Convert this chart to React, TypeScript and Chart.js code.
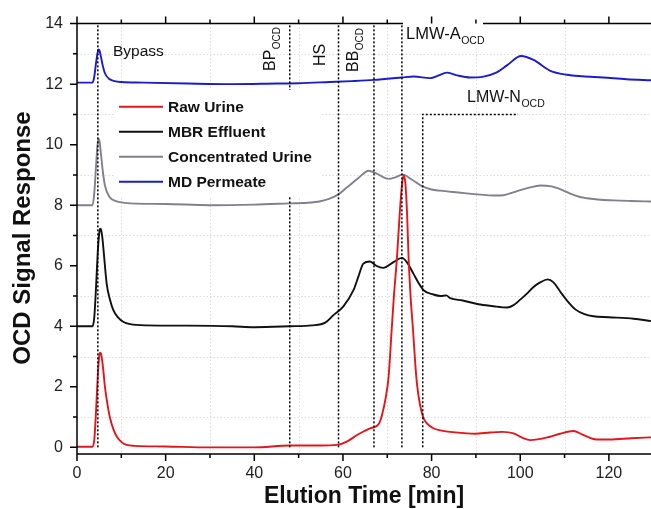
import React, { useEffect, useRef } from "react";
import { Chart, registerables } from "chart.js";

Chart.register(...registerables);

const FONT = '"Liberation Sans", Arial, Helvetica, sans-serif';

// ---- Data ----
const rawUrineX = [0, 3.5, 3.9, 4.3, 4.7, 5.0, 5.2, 5.4, 5.7, 6.0, 6.3, 6.9, 7.4, 8.2, 9.0, 10.0, 11.2, 13, 20, 30, 40, 48, 55, 58.6, 61, 63.1, 65, 66.1, 67.3, 68.2, 68.8, 69.6, 70.3, 71.0, 71.5, 72.2, 72.8, 73.3, 73.7, 74.1, 74.5, 74.8, 75.3, 75.8, 76.3, 76.7, 77.4, 78.2, 79, 80.4, 82, 84.2, 88, 89.7, 93.2, 95.9, 98.5, 100.3, 102.3, 106.7, 109, 112, 114.2, 117.2, 120.2, 125, 129.5];
const rawUrineY = [0.02, 0.02, 0.25, 1.2, 2.4, 3.0, 3.13, 3.1, 2.85, 2.45, 2.0, 1.4, 1.0, 0.6, 0.35, 0.18, 0.08, 0.05, 0.03, 0.0, 0.0, 0.06, 0.06, 0.08, 0.2, 0.4, 0.55, 0.63, 0.68, 0.8, 1.06, 1.6, 2.33, 3.9, 5.0, 6.3, 7.7, 8.65, 8.98, 8.7, 7.6, 6.3, 4.9, 3.9, 2.8, 2.1, 1.4, 0.96, 0.78, 0.63, 0.56, 0.51, 0.46, 0.45, 0.49, 0.51, 0.46, 0.33, 0.24, 0.35, 0.45, 0.54, 0.41, 0.26, 0.26, 0.3, 0.33];

const mbrX = [0, 3.5, 3.9, 4.3, 4.7, 5.0, 5.2, 5.4, 5.7, 6.0, 6.7, 7.4, 8.2, 9.2, 10.5, 12, 15.7, 25, 35, 40, 48, 53, 56, 57.8, 60.1, 62.4, 63.5, 64.6, 66.1, 67.5, 69.1, 71.4, 73.3, 74.5, 75.9, 77, 78.2, 80.4, 82, 83.3, 84.2, 87, 91, 94, 97, 98.5, 100, 101.5, 103, 104.5, 106.2, 107.5, 109, 110.5, 112.5, 114.5, 116.5, 120, 125.6, 129.5];
const mbrY = [4.0, 4.0, 4.3, 5.3, 6.5, 7.05, 7.22, 7.2, 6.95, 6.5, 5.4, 4.9, 4.53, 4.3, 4.14, 4.07, 4.03, 4.02, 4.0, 3.97, 4.0, 4.03, 4.12, 4.36, 4.66, 5.2, 5.65, 6.07, 6.14, 6.0, 5.93, 6.12, 6.26, 6.1, 5.74, 5.45, 5.19, 5.05, 5.0, 5.02, 4.93, 4.85, 4.72, 4.66, 4.62, 4.7, 4.88, 5.08, 5.3, 5.45, 5.55, 5.45, 5.15, 4.86, 4.55, 4.4, 4.33, 4.3, 4.25, 4.17];

const concX = [0, 3.5, 3.9, 4.3, 4.6, 4.85, 5.1, 5.4, 5.8, 6.3, 7.4, 8.5, 9.7, 12, 20, 30, 40, 48, 52, 54.9, 57, 58.8, 61, 63.5, 65.8, 67.5, 70.3, 72, 73.5, 75.5, 77.8, 80, 81.9, 86, 91, 94, 96.2, 99, 102, 104.5, 107, 109.5, 111.3, 113.5, 115, 118, 121, 125, 129.5];
const concY = [8.0, 8.0, 8.4, 9.3, 9.95, 10.2, 10.1, 9.7, 9.15, 8.65, 8.26, 8.15, 8.1, 8.06, 8.04, 8.0, 8.02, 8.06, 8.08, 8.13, 8.22, 8.34, 8.6, 8.9, 9.14, 9.05, 8.87, 8.93, 9.01, 8.85, 8.63, 8.52, 8.48, 8.42, 8.35, 8.32, 8.33, 8.45, 8.58, 8.65, 8.62, 8.5, 8.38, 8.27, 8.23, 8.18, 8.16, 8.14, 8.12];

const mdX = [0, 3.5, 3.9, 4.3, 4.6, 4.85, 5.1, 5.4, 5.8, 6.3, 7.2, 8.5, 10, 15, 25, 35, 45, 50, 57, 62, 67, 70, 73.3, 76, 79.7, 81.5, 83.4, 85.5, 88.7, 91.7, 94.7, 97, 100.2, 103, 106.8, 110.5, 114, 118.7, 124, 129.5];
const mdY = [12.05, 12.05, 12.25, 12.7, 13.0, 13.15, 13.1, 12.9, 12.62, 12.36, 12.18, 12.1, 12.07, 12.05, 12.02, 12.0, 12.02, 12.03, 12.07, 12.1, 12.14, 12.18, 12.22, 12.25, 12.2, 12.28, 12.38, 12.3, 12.22, 12.25, 12.39, 12.62, 12.93, 12.8, 12.44, 12.31, 12.26, 12.22, 12.16, 12.13];

const seriesNames = ["Raw Urine", "MBR Effluent", "Concentrated Urine", "MD Permeate"];
const seriesColors = ["#e3161c", "#111111", "#80808e", "#1c1cc8"];

const xTicks = [0, 20, 40, 60, 80, 100, 120];
const xMinor = [10, 30, 50, 70, 90, 110];
const yTicks = [0, 2, 4, 6, 8, 10, 12, 14];
const yMinor = [1, 3, 5, 7, 9, 11, 13];

// fraction boundaries (dotted markers)
const markerTimes = [4.7, 48, 59, 67, 73.3];
const lmwNTime = 78;
const lmwNEnd = 99.5;
const lmwNLevel = 11;

const toPts = (xs: number[], ys: number[]) => xs.map((x, i) => ({ x, y: ys[i] }));

function drawSub(ctx: CanvasRenderingContext2D, x: number, y: number, main: string, sub: string, size: number, subSize: number, rot: boolean) {
  ctx.save();
  ctx.translate(x, y);
  if (rot) ctx.rotate(-Math.PI / 2);
  ctx.fillStyle = "#111";
  ctx.textAlign = "left";
  ctx.textBaseline = "alphabetic";
  ctx.font = `${size}px ${FONT}`;
  ctx.fillText(main, 0, 0);
  const w = ctx.measureText(main).width;
  if (sub) {
    ctx.font = `${subSize}px ${FONT}`;
    ctx.fillText(sub, w + 0.5, subSize * 0.45);
  }
  ctx.restore();
}

const decor = {
  id: "decor",
  beforeDatasetsDraw(chart: any) {
    const { ctx, chartArea: a, scales } = chart;
    const xs = scales.x, ys = scales.y;
    ctx.save();
    ctx.strokeStyle = "#dcdcdc";
    ctx.lineWidth = 1;
    ctx.setLineDash([1.5, 2]);
    for (const v of xMinor) {
      const px = Math.round(xs.getPixelForValue(v)) + 0.5;
      ctx.beginPath(); ctx.moveTo(px, a.top); ctx.lineTo(px, a.bottom); ctx.stroke();
    }
    for (const v of yMinor) {
      const py = Math.round(ys.getPixelForValue(v)) + 0.5;
      ctx.beginPath(); ctx.moveTo(a.left, py); ctx.lineTo(a.right, py); ctx.stroke();
    }
    ctx.restore();
  },
  afterDraw(chart: any) {
    const { ctx, chartArea: a, scales } = chart;
    const xs = scales.x, ys = scales.y;
    ctx.save();
    // dotted fraction markers
    ctx.strokeStyle = "#000";
    ctx.lineWidth = 1.5;
    ctx.setLineDash([2, 2]);
    for (const t of markerTimes) {
      const px = xs.getPixelForValue(t);
      ctx.beginPath(); ctx.moveTo(px, ys.getPixelForValue(0)); ctx.lineTo(px, ys.getPixelForValue(14)); ctx.stroke();
    }
    const pn = xs.getPixelForValue(lmwNTime);
    const pl = ys.getPixelForValue(lmwNLevel);
    ctx.beginPath(); ctx.moveTo(pn, ys.getPixelForValue(0)); ctx.lineTo(pn, pl); ctx.lineTo(xs.getPixelForValue(lmwNEnd), pl); ctx.stroke();
    ctx.setLineDash([]);

    // legend box
    ctx.fillStyle = "#fff";
    ctx.fillRect(115, 90, 207, 107);
    // LMW-A label box
    ctx.fillRect(403, 19, 80, 29);

    // axes lines
    ctx.strokeStyle = "#000";
    ctx.lineWidth = 1.5;
    ctx.beginPath();
    ctx.moveTo(a.left, a.bottom); ctx.lineTo(a.right, a.bottom);
    ctx.moveTo(a.left, a.bottom); ctx.lineTo(a.left, a.top);
    ctx.moveTo(a.left, a.top); ctx.lineTo(403, a.top);
    ctx.moveTo(483, a.top); ctx.lineTo(a.right, a.top);
    ctx.stroke();
    // ticks
    ctx.beginPath();
    for (const v of xTicks) {
      const px = xs.getPixelForValue(v);
      ctx.moveTo(px, a.bottom); ctx.lineTo(px, a.bottom + 7);
      ctx.moveTo(px, a.top); ctx.lineTo(px, a.top - 7);
    }
    for (const v of xMinor) {
      const px = xs.getPixelForValue(v);
      ctx.moveTo(px, a.bottom); ctx.lineTo(px, a.bottom + 4);
      ctx.moveTo(px, a.top); ctx.lineTo(px, a.top - 4);
    }
    for (const v of yTicks) {
      const py = ys.getPixelForValue(v);
      ctx.moveTo(a.left, py); ctx.lineTo(a.left - 7, py);
    }
    for (const v of yMinor) {
      const py = ys.getPixelForValue(v);
      ctx.moveTo(a.left, py); ctx.lineTo(a.left - 4, py);
    }
    ctx.stroke();

    // legend
    const rows = [106.7, 131.7, 156.7, 181.7];
    ctx.textAlign = "left";
    ctx.textBaseline = "middle";
    ctx.font = `bold 15.5px ${FONT}`;
    seriesNames.forEach((n, i) => {
      ctx.strokeStyle = seriesColors[i];
      ctx.lineWidth = 2;
      ctx.beginPath(); ctx.moveTo(119, rows[i]); ctx.lineTo(163, rows[i]); ctx.stroke();
      ctx.fillStyle = "#111";
      ctx.fillText(n, 168, rows[i] + 1);
    });

    // annotations
    drawSub(ctx, 113, 56, "Bypass", "", 15.5, 10, false);
    drawSub(ctx, 275, 71, "BP", "OCD", 16, 10, true);
    drawSub(ctx, 325, 66, "HS", "", 16, 10, true);
    drawSub(ctx, 358, 72, "BB", "OCD", 16, 10, true);
    drawSub(ctx, 406, 39, "LMW-A", "OCD", 16.5, 10.5, false);
    drawSub(ctx, 467, 102, "LMW-N", "OCD", 16, 10.5, false);

    // axis titles
    ctx.fillStyle = "#111";
    ctx.font = `bold 23px ${FONT}`;
    ctx.textAlign = "center";
    ctx.textBaseline = "middle";
    ctx.fillText("Elution Time [min]", 364, 497);
    ctx.save();
    ctx.translate(23, 238);
    ctx.rotate(-Math.PI / 2);
    ctx.font = `bold 24px ${FONT}`;
    ctx.fillText("OCD Signal Response", 0, 0);
    ctx.restore();
    ctx.restore();
  },
};

export default function App() {
  const ref = useRef<HTMLCanvasElement | null>(null);
  useEffect(() => {
    if (!ref.current) return;
    const xsArr = [rawUrineX, mbrX, concX, mdX];
    const ysArr = [rawUrineY, mbrY, concY, mdY];
    const chart = new Chart(ref.current, {
      type: "line",
      data: {
        datasets: seriesNames.map((n, i) => ({
          label: n,
          data: toPts(xsArr[i], ysArr[i]),
          borderColor: seriesColors[i],
          backgroundColor: seriesColors[i],
          borderWidth: 1.9,
          pointRadius: 0,
          cubicInterpolationMode: "monotone" as const,
          fill: false,
        })),
      },
      options: {
        animation: false,
        responsive: false,
        maintainAspectRatio: false,
        layout: { padding: { top: 22, right: 0, left: 0, bottom: 0 } },
        plugins: { legend: { display: false }, tooltip: { enabled: false } },
        scales: {
          x: {
            type: "linear",
            min: 0,
            max: 129.5,
            afterBuildTicks: (s: any) => { s.ticks = xTicks.map((v) => ({ value: v })); },
            afterFit: (s: any) => { s.height = 55; },
            grid: { display: false, drawTicks: false },
            border: { display: false },
            ticks: { font: { size: 16, family: FONT }, color: "#222", padding: 10, maxRotation: 0, autoSkip: false },
          },
          y: {
            type: "linear",
            min: -0.22,
            max: 14,
            afterBuildTicks: (s: any) => { s.ticks = yTicks.map((v) => ({ value: v })); },
            afterFit: (s: any) => { s.width = 77; },
            grid: { display: false, drawTicks: false },
            border: { display: false },
            ticks: { font: { size: 16, family: FONT }, color: "#222", padding: 14, autoSkip: false },
          },
        },
      },
      plugins: [decor],
    });
    return () => chart.destroy();
  }, []);
  return (
    <div style={{ position: "fixed", left: 0, top: 0, width: 651, height: 509, background: "#fff" }}>
      <canvas ref={ref} width={651} height={509} style={{ display: "block" }} />
    </div>
  );
}
